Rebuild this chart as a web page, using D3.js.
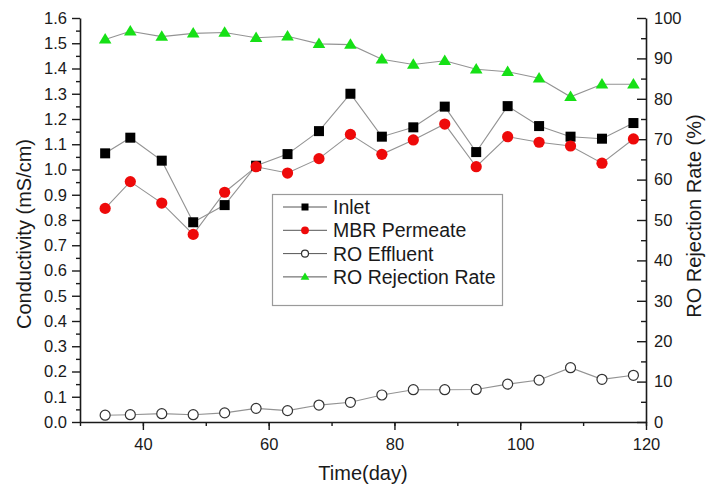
<!DOCTYPE html>
<html>
<head>
<meta charset="utf-8">
<script src="https://cdn.jsdelivr.net/npm/d3@7"></script>
<style>
  html, body { margin: 0; padding: 0; background: #fff; }
  svg { display: block; font-family: "Liberation Sans", Arial, sans-serif; }
</style>
</head>
<body>
<svg id="chart" width="707" height="486"></svg>
<script>
// Sampling days
const days = [34, 38, 43, 48, 53, 58, 63, 68, 73, 78, 83, 88, 93, 98, 103, 108, 113, 118];

// Conductivity (mS/cm)
const inlet = [1.064, 1.126, 1.035, 0.791, 0.859, 1.015, 1.061, 1.152, 1.300, 1.130, 1.167, 1.249, 1.069, 1.251, 1.172, 1.130, 1.122, 1.184];
const mbrPermeate = [0.846, 0.952, 0.867, 0.743, 0.910, 1.011, 0.986, 1.043, 1.139, 1.060, 1.117, 1.180, 1.011, 1.130, 1.108, 1.093, 1.025, 1.121];
const roEffluent = [0.027, 0.029, 0.033, 0.029, 0.036, 0.054, 0.045, 0.067, 0.078, 0.107, 0.128, 0.128, 0.129, 0.150, 0.166, 0.215, 0.169, 0.185];

// RO rejection rate (%)
const rejectionRate = [94.7, 96.7, 95.4, 96.2, 96.4, 95.1, 95.5, 93.6, 93.4, 89.8, 88.5, 89.4, 87.3, 86.7, 85.1, 80.5, 83.6, 83.6];

// Axis tick values
const xTicks = [40, 60, 80, 100, 120];
const yLeftTicks = [0.0, 0.1, 0.2, 0.3, 0.4, 0.5, 0.6, 0.7, 0.8, 0.9, 1.0, 1.1, 1.2, 1.3, 1.4, 1.5, 1.6];
const yRightTicks = [0, 10, 20, 30, 40, 50, 60, 70, 80, 90, 100];

const seriesNames = ["Inlet", "MBR Permeate", "RO Effluent", "RO Rejection Rate"];

const svg = d3.select("#chart");
const plotLeft = 80, plotRight = 646, plotTop = 18, plotBottom = 422;
const ink = "#1a1a1a";
const lineGray = "#939393";

const x = d3.scaleLinear().domain([30, 120]).range([plotLeft, plotRight]);
const yL = d3.scaleLinear().domain([0, 1.6]).range([plotBottom, plotTop]);
const yR = d3.scaleLinear().domain([0, 100]).range([plotBottom, plotTop]);

// ---- axes ----
function styleAxis(g) {
  g.selectAll(".domain").attr("stroke", ink).attr("stroke-width", 1.6);
  g.selectAll(".tick line").attr("stroke", ink).attr("stroke-width", 1.4);
  g.selectAll(".tick text").attr("fill", ink).style("font-size", "16.5px")
    .style("font-family", "'Liberation Sans', Arial, sans-serif");
}
function styleMinor(g) {
  g.select(".domain").remove();
  g.selectAll("line").attr("stroke", ink).attr("stroke-width", 1.4);
}

// minor ticks (bottom and left point outward, right points into the plot)
const gMinor = svg.append("g");
gMinor.append("g").attr("transform", `translate(0,${plotBottom})`)
  .call(d3.axisBottom(x).tickValues(d3.range(30, 121, 10)).tickSize(4).tickFormat(""))
  .call(styleMinor);
gMinor.append("g").attr("transform", `translate(${plotLeft},0)`)
  .call(d3.axisLeft(yL).tickValues(d3.range(0.05, 1.6, 0.1)).tickSize(4).tickFormat(""))
  .call(styleMinor);
gMinor.append("g").attr("transform", `translate(${plotRight},0)`)
  .call(d3.axisRight(yR).tickValues(d3.range(5, 100, 10)).tickSize(-5).tickFormat(""))
  .call(styleMinor);

svg.append("g").attr("transform", `translate(0,${plotBottom})`)
  .call(d3.axisBottom(x).tickValues(xTicks).tickSize(8).tickSizeOuter(0).tickPadding(8))
  .call(styleAxis);
svg.append("g").attr("transform", `translate(${plotLeft},0)`)
  .call(d3.axisLeft(yL).tickValues(yLeftTicks).tickSize(8).tickSizeOuter(0).tickPadding(5).tickFormat(d3.format(".1f")))
  .call(styleAxis);
svg.append("g").attr("transform", `translate(${plotRight},0)`)
  .call(d3.axisRight(yR).tickValues(yRightTicks).tickSize(-9).tickSizeOuter(0).tickPadding(8))
  .call(styleAxis);

// ---- axis titles ----
svg.append("text")
  .attr("transform", `translate(31,234) rotate(-90)`)
  .attr("text-anchor", "middle").attr("fill", ink).style("font-size", "20px")
  .text("Conductivity (mS/cm)");
svg.append("text")
  .attr("transform", `translate(701,216) rotate(-90)`)
  .attr("text-anchor", "middle").attr("fill", ink).style("font-size", "20px")
  .text("RO Rejection Rate (%)");
svg.append("text")
  .attr("x", 363).attr("y", 480)
  .attr("text-anchor", "middle").attr("fill", ink).style("font-size", "20px")
  .text("Time(day)");

// ---- series ----
const series = [
  { name: seriesNames[0], values: inlet, y: yL, marker: "square" },
  { name: seriesNames[1], values: mbrPermeate, y: yL, marker: "dot" },
  { name: seriesNames[2], values: roEffluent, y: yL, marker: "ring" },
  { name: seriesNames[3], values: rejectionRate, y: yR, marker: "triangle" }
];

function drawMarker(g, type, cx, cy, scale) {
  const s = scale || 1;
  if (type === "square") {
    const h = 5 * s;
    g.append("rect").attr("x", cx - h).attr("y", cy - h).attr("width", 2 * h).attr("height", 2 * h)
      .attr("fill", "#000");
  } else if (type === "dot") {
    g.append("circle").attr("cx", cx).attr("cy", cy).attr("r", 5.6 * s).attr("fill", "#ee0a0a");
  } else if (type === "ring") {
    g.append("circle").attr("cx", cx).attr("cy", cy).attr("r", 5 * s)
      .attr("fill", "#fff").attr("stroke", "#333").attr("stroke-width", 1.2);
  } else if (type === "triangle") {
    const w = 6.3 * s, h = 10.5 * s;
    g.append("path")
      .attr("d", `M${cx},${cy - h * 0.6}L${cx + w},${cy + h * 0.4}L${cx - w},${cy + h * 0.4}Z`)
      .attr("fill", "#16e016");
  }
}

const line = d3.line();
series.forEach(s => {
  const pts = days.map((d, i) => [x(d), s.y(s.values[i])]);
  svg.append("path").attr("d", line(pts))
    .attr("fill", "none").attr("stroke", lineGray).attr("stroke-width", 1.1);
});
series.forEach(s => {
  const g = svg.append("g");
  days.forEach((d, i) => drawMarker(g, s.marker, x(d), s.y(s.values[i])));
});

// ---- legend ----
const lg = svg.append("g");
lg.append("rect").attr("x", 272.5).attr("y", 194.5).attr("width", 230).attr("height", 111)
  .attr("fill", "#fff").attr("stroke", "#9a9a9a").attr("stroke-width", 1.2);
series.forEach((s, i) => {
  const cy = 207 + i * 23.3;
  lg.append("line").attr("x1", 283).attr("x2", 327).attr("y1", cy).attr("y2", cy)
    .attr("stroke", "#555").attr("stroke-width", 1);
  drawMarker(lg, s.marker, 305, cy, 0.7);
  lg.append("text").attr("x", 333).attr("y", cy + 7).attr("fill", ink)
    .style("font-size", "19.5px").text(s.name);
});
</script>
</body>
</html>
